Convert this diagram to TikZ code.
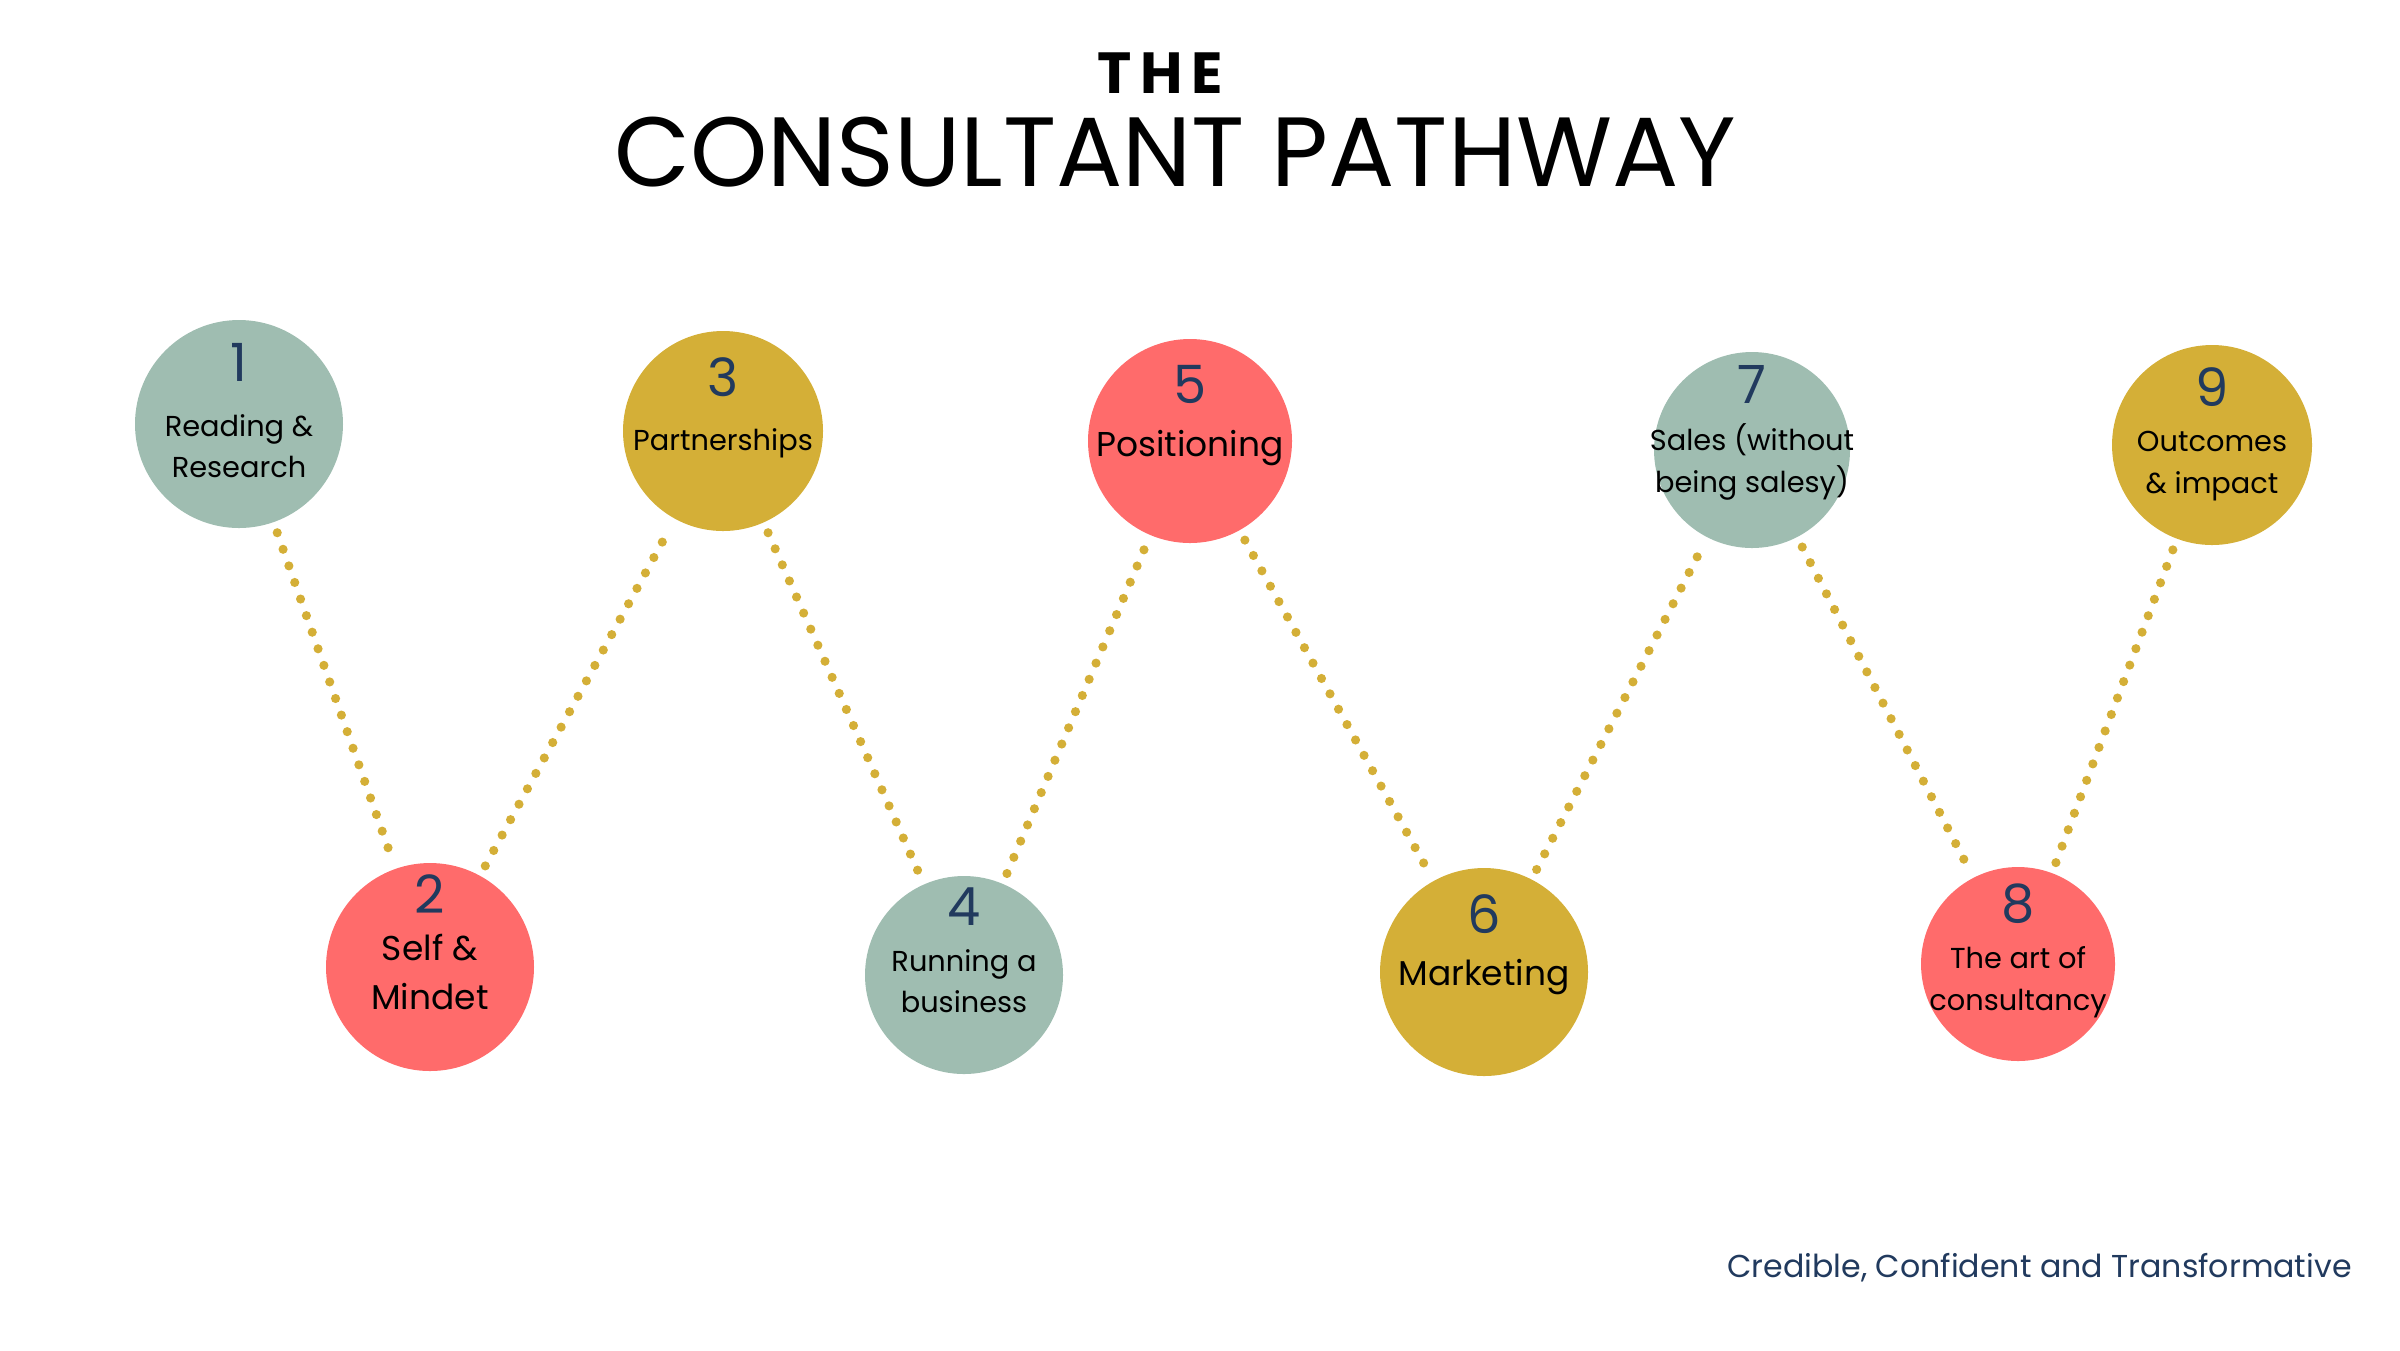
\documentclass[tikz,border=0pt]{standalone}
\usepackage{fontspec}
\setmainfont{Poppins}
\newfontfamily\spacedfont{Poppins}[LetterSpace=15.0]
\definecolor{sage}{HTML}{9FBDB1}
\definecolor{coral}{HTML}{FF6B6B}
\definecolor{gold}{HTML}{D4AF37}
\definecolor{navy}{HTML}{213A5E}
\begin{document}
\begin{tikzpicture}[x=1cm,y=-1cm]
\tikzstyle{disc}=[circle,inner sep=0pt]
\tikzstyle{num}=[text=navy,font=\fontsize{15}{15}\selectfont,inner sep=0pt]
\tikzstyle{small}=[align=center,font=\fontsize{8.2}{11.8}\selectfont,inner sep=0pt]
\tikzstyle{big}=[align=center,font=\fontsize{9.8}{14.2}\selectfont,inner sep=0pt]
\tikzstyle{trail}=[gold,line width=2.6pt,line cap=round,dash pattern=on 0pt off 5pt,shorten <=3pt,shorten >=3pt]
\useasboundingbox (0,0) rectangle (24,13.5);
% title
\node[anchor=base,font=\spacedfont\bfseries\fontsize{16.5}{16.5}\selectfont] (the) at (11.6,0.93) {THE};
\node[anchor=base,font=\fontsize{28}{28}\selectfont] (title) at (11.75,1.86) {CONSULTANT PATHWAY};
% stops
\foreach \n/\x/\y/\r/\c in {1/2.39/4.24/1.04/sage,2/4.30/9.67/1.04/coral,3/7.23/4.31/1.00/gold,
  4/9.64/9.75/0.99/sage,5/11.90/4.41/1.02/coral,6/14.84/9.72/1.04/gold,
  7/17.52/4.50/0.98/sage,8/20.18/9.64/0.97/coral,9/22.12/4.45/1.00/gold}
  \node[disc,fill=\c,minimum size=2*\r cm] (s\n) at (\x,\y) {};
\foreach \a/\b in {1/2,2/3,3/4,4/5,5/6,6/7,7/8,8/9}
  \draw[trail] (s\a) -- (s\b);
% numbers
\foreach \n/\dy in {1/-0.62,2/-0.73,3/-0.54,4/-0.68,5/-0.57,6/-0.58,7/-0.66,8/-0.60,9/-0.58}
  \path (s\n.center) ++(0,\dy) node[num] (n\n) {\n};
% labels
\path (s1.center) ++(0,0.22) node[small] (l1) {Reading \&\\Research};
\path (s2.center) ++(0,0.05) node[big] (l2) {Self \&\\Mindet};
\path (s3.center) ++(0,0.12) node[small] (l3) {Partnerships};
\path (s4.center) ++(0,0.06) node[small] (l4) {Running a\\business};
\path (s5.center) ++(0,0.07) node[big] (l5) {Positioning};
\path (s6.center) ++(0,0.05) node[big] (l6) {Marketing};
\path (s7.center) ++(0,0.12) node[small] (l7) {Sales (without\\being salesy)};
\path (s8.center) ++(0,0.18) node[small] (l8) {The art of\\consultancy};
\path (s9.center) ++(0,0.21) node[small] (l9) {Outcomes\\\& impact};
% footer
\node[anchor=base east,text=navy,font=\fontsize{9}{9}\selectfont] (tag) at (23.64,12.77) {Credible, Confident and Transformative};
\end{tikzpicture}
\end{document}
